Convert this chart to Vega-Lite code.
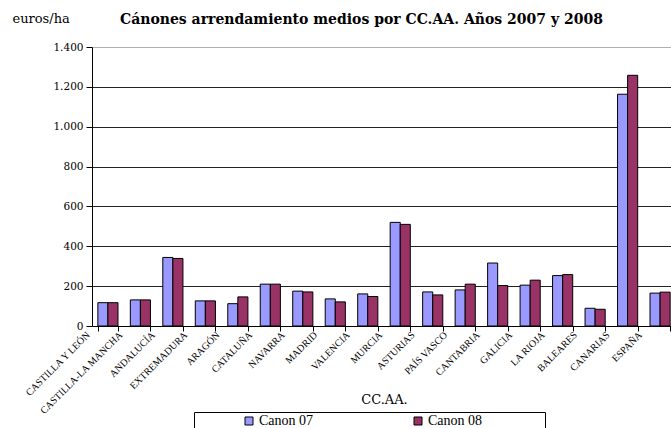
{
  "$schema": "https://vega.github.io/schema/vega-lite/v6.json",
  "width": 584,
  "height": 279,
  "autosize": "none",
  "padding": {"left": 92, "top": 47, "right": 0, "bottom": 102},
  "background": "white",
  "title": {
    "text": "Cánones arrendamiento medios por CC.AA. Años 2007 y 2008",
    "anchor": "start",
    "dx": 108,
    "offset": 0,
    "dy": 26,
    "baseline": "alphabetic",
    "font": "DejaVu Serif",
    "fontSize": 14,
    "fontWeight": "bold",
    "color": "black"
  },
  "data": {
    "values": [
      {"ccaa": "CASTILLA Y LEÓN", "serie": "Canon 07", "valor": 117},
      {"ccaa": "CASTILLA Y LEÓN", "serie": "Canon 08", "valor": 117},
      {"ccaa": "CASTILLA-LA MANCHA", "serie": "Canon 07", "valor": 131},
      {"ccaa": "CASTILLA-LA MANCHA", "serie": "Canon 08", "valor": 131},
      {"ccaa": "ANDALUCÍA", "serie": "Canon 07", "valor": 344},
      {"ccaa": "ANDALUCÍA", "serie": "Canon 08", "valor": 339},
      {"ccaa": "EXTREMADURA", "serie": "Canon 07", "valor": 126},
      {"ccaa": "EXTREMADURA", "serie": "Canon 08", "valor": 126},
      {"ccaa": "ARAGÓN", "serie": "Canon 07", "valor": 112},
      {"ccaa": "ARAGÓN", "serie": "Canon 08", "valor": 146},
      {"ccaa": "CATALUÑA", "serie": "Canon 07", "valor": 210},
      {"ccaa": "CATALUÑA", "serie": "Canon 08", "valor": 210},
      {"ccaa": "NAVARRA", "serie": "Canon 07", "valor": 175},
      {"ccaa": "NAVARRA", "serie": "Canon 08", "valor": 171},
      {"ccaa": "MADRID", "serie": "Canon 07", "valor": 136},
      {"ccaa": "MADRID", "serie": "Canon 08", "valor": 121},
      {"ccaa": "VALENCIA", "serie": "Canon 07", "valor": 161},
      {"ccaa": "VALENCIA", "serie": "Canon 08", "valor": 148},
      {"ccaa": "MURCIA", "serie": "Canon 07", "valor": 520},
      {"ccaa": "MURCIA", "serie": "Canon 08", "valor": 510},
      {"ccaa": "ASTURIAS", "serie": "Canon 07", "valor": 171},
      {"ccaa": "ASTURIAS", "serie": "Canon 08", "valor": 156},
      {"ccaa": "PAÍS VASCO", "serie": "Canon 07", "valor": 181},
      {"ccaa": "PAÍS VASCO", "serie": "Canon 08", "valor": 210},
      {"ccaa": "CANTABRIA", "serie": "Canon 07", "valor": 316},
      {"ccaa": "CANTABRIA", "serie": "Canon 08", "valor": 203},
      {"ccaa": "GALICIA", "serie": "Canon 07", "valor": 205},
      {"ccaa": "GALICIA", "serie": "Canon 08", "valor": 230},
      {"ccaa": "LA RIOJA", "serie": "Canon 07", "valor": 253},
      {"ccaa": "LA RIOJA", "serie": "Canon 08", "valor": 258},
      {"ccaa": "BALEARES", "serie": "Canon 07", "valor": 89},
      {"ccaa": "BALEARES", "serie": "Canon 08", "valor": 84},
      {"ccaa": "CANARIAS", "serie": "Canon 07", "valor": 1163},
      {"ccaa": "CANARIAS", "serie": "Canon 08", "valor": 1258},
      {"ccaa": "ESPAÑA", "serie": "Canon 07", "valor": 165},
      {"ccaa": "ESPAÑA", "serie": "Canon 08", "valor": 170}
    ]
  },
  "mark": {"type": "bar", "stroke": "black", "strokeWidth": 1},
  "encoding": {
    "x": {
      "field": "ccaa",
      "type": "nominal",
      "sort": null,
      "scale": {"paddingInner": 0.38, "paddingOuter": 0.18},
      "axis": {
        "title": "CC.AA.",
        "labelAngle": -45,
        "labelAlign": "right",
        "labelBaseline": "middle",
        "labelFont": "Liberation Serif",
        "labelFontSize": 10,
        "labelColor": "black",
        "labelOffset": -20,
        "labelPadding": 2,
        "tickBand": "extent",
        "tickColor": "black",
        "tickSize": 5,
        "domainColor": "black",
        "grid": false,
        "titleFont": "DejaVu Serif",
        "titleFontSize": 13,
        "titleFontWeight": "normal",
        "titleColor": "black",
        "titleBaseline": "alphabetic",
        "titleY": 77
      }
    },
    "xOffset": {"field": "serie", "type": "nominal", "scale": {"paddingInner": 0}},
    "y": {
      "field": "valor",
      "type": "quantitative",
      "scale": {"domain": [0, 1400], "nice": false},
      "axis": {
        "values": [0, 200, 400, 600, 800, 1000, 1200, 1400],
        "labelExpr": "replace(format(datum.value, ','), ',', '.')",
        "labelFont": "DejaVu Serif",
        "labelFontSize": 10.5,
        "labelColor": "black",
        "labelPadding": 3,
        "tickColor": "black",
        "tickSize": 6,
        "domainColor": "black",
        "grid": true,
        "gridColor": {"condition": {"test": "datum.value == 1400", "value": "#b0b0b0"}, "value": "#222222"},
        "title": "euros/ha",
        "titleAngle": 0,
        "titleAlign": "left",
        "titleBaseline": "alphabetic",
        "titleX": -80,
        "titleY": -25,
        "titleFont": "DejaVu Serif",
        "titleFontSize": 13,
        "titleFontWeight": "normal",
        "titleColor": "black"
      }
    },
    "color": {
      "field": "serie",
      "type": "nominal",
      "scale": {"domain": ["Canon 07", "Canon 08"], "range": ["#9999ff", "#993366"]},
      "legend": {
        "orient": "none",
        "legendX": 102,
        "legendY": 365,
        "direction": "horizontal",
        "title": null,
        "symbolType": "square",
        "symbolSize": 64,
        "symbolStrokeColor": "black",
        "symbolStrokeWidth": 1,
        "labelFont": "Liberation Serif",
        "labelFontSize": 14,
        "labelColor": "black",
        "strokeColor": "black",
        "padding": 2,
        "symbolOffset": 46,
        "labelOffset": 3,
        "columnPadding": 51,
        "labelExpr": "datum.label == 'Canon 08' ? datum.label + '\u2800\u2800\u2800\u2800\u2800\u2800' : datum.label"
      }
    }
  },
  "config": {"view": {"stroke": null}}
}
